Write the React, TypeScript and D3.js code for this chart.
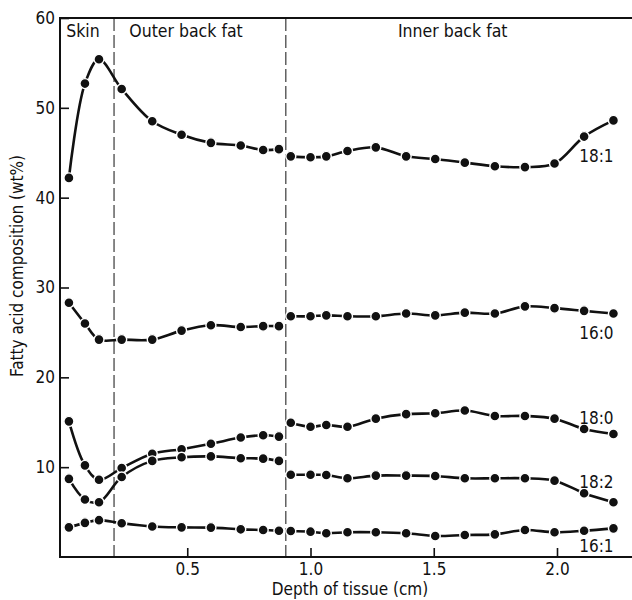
import { useEffect, useRef } from 'react';
import * as d3 from 'd3';

const [width, height] = [632, 600];
const font = '"DejaVu Sans Condensed", "Liberation Sans Narrow", "DejaVu Sans", sans-serif';
const ink = '#111';

// sampling depths (cm), outer layer (skin + outer back fat) and inner back fat
const depthOuter = [0.02, 0.085, 0.142, 0.234, 0.358, 0.477, 0.596, 0.717, 0.808, 0.872];
const depthInner = [0.92, 1.0, 1.064, 1.15, 1.265, 1.388, 1.506, 1.626, 1.748, 1.87, 1.99, 2.11, 2.229];

const acids = ['18:1', '16:0', '18:0', '18:2', '16:1'];

const outer181 = [42.2, 52.7, 55.4, 52.1, 48.5, 47.0, 46.1, 45.8, 45.3, 45.4];
const inner181 = [44.6, 44.5, 44.6, 45.2, 45.6, 44.6, 44.3, 43.9, 43.5, 43.4, 43.8, 46.8, 48.6];
const outer160 = [28.3, 26.0, 24.2, 24.2, 24.2, 25.2, 25.8, 25.6, 25.7, 25.7];
const inner160 = [26.8, 26.8, 26.9, 26.8, 26.8, 27.1, 26.9, 27.2, 27.1, 27.9, 27.7, 27.4, 27.1];
const outer180 = [15.1, 10.2, 8.6, 9.9, 11.5, 12.0, 12.6, 13.3, 13.55, 13.4];
const inner180 = [14.95, 14.5, 14.7, 14.5, 15.4, 15.9, 16.0, 16.3, 15.7, 15.7, 15.4, 14.25, 13.7];
const outer182 = [8.7, 6.4, 6.1, 8.9, 10.7, 11.1, 11.2, 11.0, 10.95, 10.7];
const inner182 = [9.15, 9.15, 9.13, 8.76, 9.06, 9.06, 9.02, 8.76, 8.76, 8.76, 8.5, 7.1, 6.1];
const outer161 = [3.3, 3.8, 4.1, 3.75, 3.4, 3.3, 3.27, 3.08, 3.0, 2.93];
const inner161 = [2.9, 2.82, 2.64, 2.75, 2.75, 2.64, 2.34, 2.45, 2.52, 3.0, 2.75, 2.93, 3.19];

const outerValues = [outer181, outer160, outer180, outer182, outer161];
const innerValues = [inner181, inner160, inner180, inner182, inner161];

// where each curve's name sits (depth, wt%)
const labelAt = [[2.09, 44.0], [2.09, 24.3], [2.09, 14.8], [2.09, 7.7], [2.09, 0.6]];

const zones = ['Skin', 'Outer back fat', 'Inner back fat'];
const zoneCentres = [0.077, 0.495, 1.577];
const boundaries = [0.203, 0.9];

const yTicks = [10, 20, 30, 40, 50, 60];
const xTicks = [0.5, 1.0, 1.5, 2.0];

function App() {
    const node = useRef<SVGSVGElement>(null);

    useEffect(() => {
        if (!node.current) return;
        document.body.style.margin = '0';
        const svg = d3.select(node.current);
        svg.selectAll('*').remove();

        const x = d3.scaleLinear().domain([0, 2]).range([64, 557]);
        const y = d3.scaleLinear().domain([0, 60]).range([557, 18]);
        const left = 60, right = width;

        // frame: left axis, bottom axis, top rule
        const frame = svg.append('g').attr('stroke', ink).attr('stroke-width', 2).attr('fill', 'none');
        frame.append('path').attr('d', `M${right},${y(60)}H${left}V${y(0)}H${right}`);

        const yAxis = svg.append('g')
            .attr('transform', `translate(${left},0)`)
            .call(d3.axisLeft(y).tickValues(yTicks).tickSize(-9).tickPadding(5).tickFormat(d3.format('d')));
        yAxis.select('.domain').remove();
        yAxis.selectAll('line').attr('stroke', ink).attr('stroke-width', 1.6);
        yAxis.selectAll('text').attr('font-family', font).attr('font-size', 17).attr('fill', ink);

        const xAxis = svg.append('g')
            .attr('transform', `translate(0,${y(0)})`)
            .call(d3.axisBottom(x).tickValues(xTicks).tickSize(-9).tickPadding(6).tickFormat(d3.format('.1f')));
        xAxis.select('.domain').remove();
        xAxis.selectAll('line').attr('stroke', ink).attr('stroke-width', 1.6);
        xAxis.selectAll('text').attr('font-family', font).attr('font-size', 17).attr('fill', ink);

        // zone boundaries
        svg.append('g').selectAll('line')
            .data(boundaries)
            .enter()
            .append('line')
            .attr('x1', d => x(d)).attr('x2', d => x(d))
            .attr('y1', y(60)).attr('y2', y(0))
            .attr('stroke', ink).attr('stroke-width', 1)
            .attr('stroke-dasharray', '13,4');

        svg.append('g').selectAll('text')
            .data(zones)
            .enter()
            .append('text')
            .attr('x', (d, i) => x(zoneCentres[i]))
            .attr('y', y(57.9))
            .attr('text-anchor', 'middle')
            .attr('font-family', font).attr('font-size', 17.5).attr('fill', ink)
            .text(d => d);

        const line = d3.line<[number, number]>()
            .x(d => x(d[0]))
            .y(d => y(d[1]))
            .curve(d3.curveCatmullRom.alpha(0.5));

        const curves = svg.append('g');
        acids.forEach((name, i) => {
            const segs: [number, number][][] = [
                depthOuter.map((d, j) => [d, outerValues[i][j]]),
                depthInner.map((d, j) => [d, innerValues[i][j]]),
            ];
            segs.forEach(seg => {
                curves.append('path')
                    .attr('d', line(seg))
                    .attr('fill', 'none')
                    .attr('stroke', ink)
                    .attr('stroke-width', 2.6);
            });
            curves.append('g').selectAll('circle')
                .data(segs.flat())
                .enter()
                .append('circle')
                .attr('cx', d => x(d[0]))
                .attr('cy', d => y(d[1]))
                .attr('r', 5)
                .attr('fill', ink)
                .attr('stroke', '#fff')
                .attr('stroke-width', 1.4);

            curves.append('text')
                .attr('x', x(labelAt[i][0]))
                .attr('y', y(labelAt[i][1]))
                .attr('font-family', font).attr('font-size', 17).attr('fill', ink)
                .text(name);
        });

        svg.append('text')
            .attr('transform', `translate(23,${266}) rotate(-90)`)
            .attr('text-anchor', 'middle')
            .attr('font-family', font).attr('font-size', 17).attr('fill', ink)
            .text('Fatty acid composition (wt%)');

        svg.append('text')
            .attr('x', 350)
            .attr('y', 595)
            .attr('text-anchor', 'middle')
            .attr('font-family', font).attr('font-size', 17).attr('fill', ink)
            .text('Depth of tissue (cm)');
    }, [node]);

    return (
        <svg ref={node} width={width} height={height} style={{ display: 'block', background: '#fff' }}></svg>
    );
}

export default App;
